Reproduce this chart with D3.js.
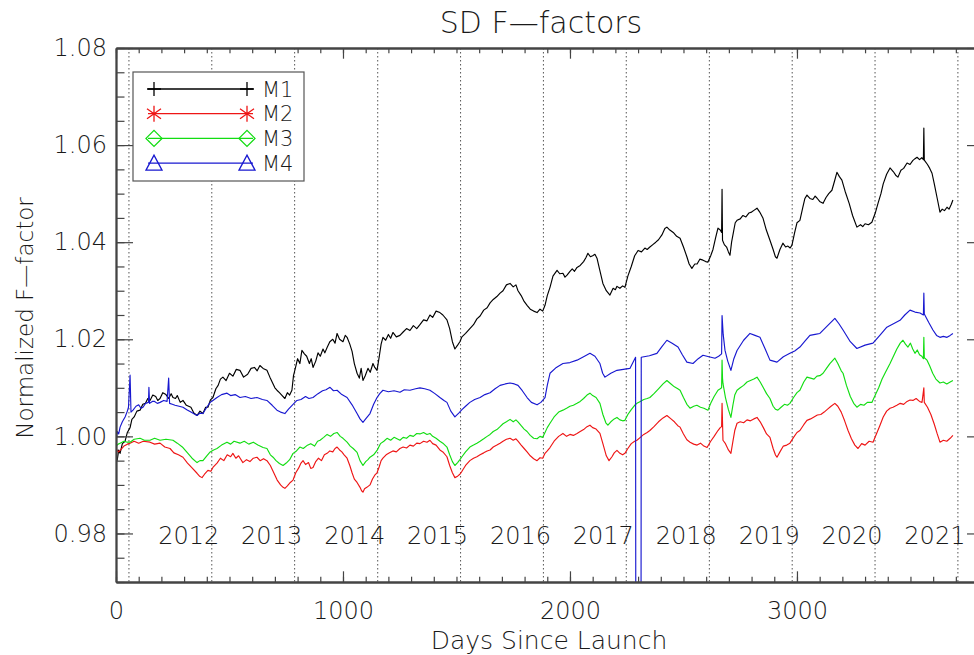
<!DOCTYPE html>
<html>
<head>
<meta charset="utf-8">
<script src="https://cdn.jsdelivr.net/npm/d3@7"></script>
<style>
  body { margin: 0; background: #fff; }
  text { font-family: "DejaVu Sans", sans-serif; font-weight: 200; fill: #1a1a1a; }
</style>
</head>
<body>
<svg id="chart" width="974" height="655"></svg>
<script>
// series names and colours
var seriesNames = ["M1", "M2", "M3", "M4"];
var seriesColors = ["#000000", "#ee1515", "#12dd12", "#1818d0"];

// [days since launch, normalized F-factor]
var m1Data = [[5,.9950],[12,.9972],[18,.9965],[28,.9985],[40,.9990],[50,1.0008],[62,1.0018],[70,1.0035],[80,1.0040],[92,1.0052],[106,1.0054],[118,1.0066],[130,1.0068],[140,1.0078],[150,1.0074],[162,1.0085],[175,1.0082],[184,1.0074],[194,1.0078],[206,1.0090],[220,1.0086],[232,1.0078],[243,1.0088],[251,1.0080],[262,1.0078],[270,1.0084],[283,1.0070],[295,1.0074],[310,1.0064],[330,1.0060],[343,1.0048],[357,1.0043],[370,1.0052],[383,1.0047],[395,1.0060],[405,1.0060],[416,1.0075],[427,1.0080],[440,1.0098],[450,1.0105],[460,1.0118],[471,1.0122],[485,1.0115],[500,1.0130],[515,1.0124],[530,1.0138],[546,1.0136],[562,1.0122],[580,1.0128],[595,1.0140],[610,1.0142],[622,1.0135],[634,1.0146],[648,1.0140],[665,1.0136],[678,1.0122],[690,1.0110],[700,1.0100],[709,1.0095],[720,1.0090],[730,1.0085],[744,1.0078],[755,1.0090],[765,1.0085],[775,1.0095],[782,1.0125],[790,1.0140],[800,1.0160],[810,1.0150],[819,1.0177],[830,1.0170],[840,1.0165],[852,1.0150],[860,1.0160],[868,1.0142],[880,1.0155],[890,1.0172],[900,1.0165],[912,1.0180],[920,1.0172],[930,1.0183],[942,1.0195],[955,1.0200],[965,1.0192],[974,1.0212],[985,1.0200],[1000,1.0195],[1010,1.0208],[1018,1.0204],[1030,1.0190],[1040,1.0175],[1050,1.0150],[1062,1.0130],[1072,1.0120],[1080,1.0140],[1088,1.0115],[1098,1.0125],[1110,1.0140],[1120,1.0132],[1132,1.0150],[1140,1.0142],[1150,1.0136],[1160,1.0165],[1168,1.0190],[1176,1.0204],[1188,1.0198],[1200,1.0210],[1210,1.0202],[1220,1.0214],[1235,1.0205],[1251,1.0208],[1265,1.0215],[1280,1.0222],[1295,1.0218],[1310,1.0228],[1325,1.0222],[1339,1.0230],[1355,1.0240],[1370,1.0238],[1383,1.0250],[1395,1.0245],[1410,1.0258],[1427,1.0255],[1440,1.0250],[1458,1.0240],[1470,1.0222],[1482,1.0195],[1493,1.0180],[1505,1.0188],[1515,1.0195],[1524,1.0205],[1540,1.0212],[1559,1.0222],[1575,1.0230],[1590,1.0242],[1604,1.0248],[1620,1.0260],[1635,1.0265],[1648,1.0275],[1662,1.0282],[1678,1.0288],[1692,1.0295],[1705,1.0300],[1720,1.0312],[1736,1.0315],[1750,1.0308],[1762,1.0312],[1771,1.0300],[1785,1.0290],[1798,1.0278],[1811,1.0270],[1825,1.0262],[1840,1.0258],[1855,1.0255],[1868,1.0262],[1880,1.0258],[1890,1.0270],[1900,1.0290],[1912,1.0307],[1925,1.0330],[1943,1.0342],[1955,1.0335],[1969,1.0336],[1978,1.0328],[1987,1.0332],[2000,1.0340],[2010,1.0345],[2020,1.0340],[2031,1.0348],[2045,1.0352],[2060,1.0360],[2070,1.0368],[2079,1.0377],[2090,1.0370],[2100,1.0372],[2110,1.0375],[2119,1.0367],[2130,1.0345],[2145,1.0315],[2160,1.0300],[2176,1.0291],[2190,1.0305],[2200,1.0302],[2207,1.0309],[2220,1.0305],[2232,1.0310],[2242,1.0307],[2255,1.0330],[2270,1.0350],[2285,1.0372],[2300,1.0383],[2315,1.0380],[2330,1.0388],[2340,1.0385],[2352,1.0390],[2365,1.0395],[2378,1.0400],[2390,1.0405],[2405,1.0415],[2418,1.0428],[2427,1.0431],[2440,1.0425],[2455,1.0420],[2470,1.0412],[2485,1.0408],[2500,1.0390],[2515,1.0370],[2525,1.0355],[2537,1.0346],[2550,1.0355],[2560,1.0355],[2572,1.0365],[2586,1.0363],[2598,1.0360],[2608,1.0359],[2620,1.0372],[2630,1.0385],[2642,1.0410],[2652,1.0429],[2662,1.0425],[2668,1.0420],[2670,1.0509],[2672,1.0404],[2680,1.0395],[2690,1.0390],[2698,1.0380],[2705,1.0373],[2712,1.0400],[2720,1.0420],[2728,1.0440],[2736,1.0445],[2750,1.0448],[2762,1.0455],[2775,1.0452],[2788,1.0460],[2800,1.0462],[2812,1.0466],[2824,1.0470],[2836,1.0462],[2850,1.0450],[2865,1.0425],[2881,1.0404],[2895,1.0385],[2905,1.0370],[2912,1.0367],[2925,1.0385],[2938,1.0398],[2950,1.0390],[2960,1.0392],[2970,1.0388],[2978,1.0394],[2990,1.0420],[3000,1.0440],[3013,1.0445],[3025,1.0470],[3035,1.0490],[3044,1.0497],[3057,1.0490],[3070,1.0488],[3080,1.0495],[3088,1.0491],[3100,1.0484],[3115,1.0480],[3128,1.0492],[3140,1.0500],[3154,1.0507],[3165,1.0525],[3176,1.0544],[3187,1.0535],[3198,1.0528],[3212,1.0505],[3230,1.0480],[3245,1.0455],[3264,1.0431],[3280,1.0436],[3290,1.0432],[3300,1.0438],[3315,1.0436],[3330,1.0441],[3345,1.0460],[3357,1.0480],[3370,1.0500],[3380,1.0520],[3395,1.0540],[3410,1.0553],[3425,1.0545],[3435,1.0538],[3445,1.0534],[3458,1.0548],[3470,1.0552],[3485,1.0563],[3498,1.0560],[3510,1.0568],[3520,1.0572],[3529,1.0575],[3540,1.0570],[3550,1.0574],[3557,1.0570],[3559,1.0635],[3561,1.0569],[3575,1.0560],[3585,1.0552],[3595,1.0542],[3605,1.0520],[3618,1.0490],[3630,1.0462],[3640,1.0468],[3650,1.0465],[3661,1.0472],[3670,1.0468],[3680,1.0478],[3687,1.0487]];
var m2Data = [[0,.9975],[10,.9968],[18,.9971],[35,.9980],[50,.9984],[62,.9986],[80,.9990],[100,.9986],[120,.9990],[150,.9988],[170,.9984],[194,.9986],[215,.9978],[238,.9975],[255,.9966],[275,.9962],[295,.9957],[315,.9945],[335,.9935],[357,.9924],[368,.9918],[379,.9915],[390,.9922],[405,.9930],[418,.9928],[427,.9936],[445,.9945],[460,.9955],[475,.9950],[490,.9962],[505,.9958],[515,.9965],[528,.9955],[540,.9960],[559,.9946],[575,.9952],[590,.9948],[605,.9955],[621,.9957],[635,.9950],[650,.9954],[665,.9950],[680,.9940],[695,.9925],[710,.9910],[725,.9900],[736,.9895],[744,.9893],[755,.9898],[768,.9905],[780,.9910],[792,.9925],[805,.9935],[815,.9945],[824,.9950],[835,.9942],[848,.9946],[858,.9934],[868,.9936],[880,.9948],[892,.9955],[905,.9950],[918,.9962],[930,.9965],[942,.9970],[955,.9968],[965,.9975],[974,.9978],[985,.9972],[995,.9968],[1005,.9962],[1018,.9955],[1030,.9940],[1040,.9925],[1050,.9912],[1062,.9905],[1075,.9895],[1082,.9888],[1088,.9885],[1095,.9892],[1105,.9895],[1119,.9900],[1130,.9912],[1140,.9920],[1150,.9925],[1160,.9938],[1168,.9950],[1176,.9955],[1190,.9962],[1205,.9966],[1220,.9970],[1235,.9968],[1251,.9975],[1265,.9978],[1280,.9976],[1295,.9982],[1310,.9980],[1325,.9986],[1339,.9985],[1355,.9990],[1370,.9988],[1383,.9992],[1395,.9985],[1410,.9982],[1427,.9972],[1440,.9968],[1458,.9958],[1470,.9940],[1482,.9925],[1493,.9915],[1505,.9918],[1515,.9922],[1524,.9928],[1540,.9940],[1559,.9950],[1575,.9955],[1590,.9958],[1604,.9962],[1620,.9966],[1635,.9970],[1648,.9972],[1662,.9978],[1678,.9982],[1692,.9986],[1705,.9990],[1720,.9994],[1736,.9996],[1750,.9992],[1762,.9995],[1771,.9990],[1785,.9982],[1798,.9975],[1811,.9968],[1825,.9960],[1840,.9954],[1855,.9950],[1868,.9956],[1880,.9955],[1890,.9965],[1900,.9970],[1912,.9977],[1930,.9990],[1950,1.0000],[1969,1.0006],[1985,1.0000],[2000,1.0004],[2015,1.0002],[2031,1.0006],[2045,1.0010],[2060,1.0014],[2075,1.0020],[2088,1.0023],[2100,1.0018],[2115,1.0015],[2132,1.0006],[2145,.9985],[2160,.9960],[2172,.9950],[2185,.9958],[2195,.9966],[2207,.9971],[2220,.9965],[2232,.9962],[2242,.9965],[2255,.9975],[2270,.9985],[2285,.9990],[2295,.9992],[2310,.9998],[2325,1.0004],[2340,1.0008],[2352,1.0012],[2370,1.0020],[2390,1.0030],[2410,1.0038],[2427,1.0043],[2445,1.0036],[2460,1.0030],[2475,1.0022],[2485,1.0019],[2500,1.0005],[2515,.9993],[2529,.9988],[2545,.9984],[2560,.9982],[2575,.9986],[2590,.9980],[2604,.9977],[2620,.9990],[2635,1.0000],[2652,1.0012],[2662,1.0018],[2668,1.0020],[2670,1.0068],[2672,1.0030],[2674,.9992],[2685,.9985],[2698,.9972],[2709,.9965],[2718,.9990],[2726,1.0012],[2736,1.0027],[2750,1.0030],[2765,1.0028],[2780,1.0034],[2795,1.0032],[2810,1.0036],[2824,1.0039],[2838,1.0030],[2852,1.0018],[2866,1.0005],[2881,.9998],[2895,.9975],[2905,.9962],[2912,.9957],[2925,.9968],[2940,.9980],[2955,.9982],[2969,.9986],[2985,.9998],[3000,1.0008],[3013,1.0012],[3030,1.0024],[3044,1.0033],[3060,1.0036],[3075,1.0040],[3090,1.0044],[3105,1.0045],[3120,1.0050],[3135,1.0056],[3150,1.0062],[3167,1.0068],[3180,1.0062],[3195,1.0050],[3210,1.0032],[3225,1.0012],[3240,.9995],[3255,.9982],[3269,.9975],[3285,.9985],[3300,.9982],[3318,.9990],[3335,.9988],[3350,1.0005],[3365,1.0022],[3380,1.0040],[3395,1.0052],[3410,1.0058],[3423,1.0060],[3440,1.0064],[3455,1.0068],[3470,1.0066],[3485,1.0072],[3498,1.0075],[3511,1.0074],[3525,1.0078],[3540,1.0072],[3551,1.0070],[3559,1.0100],[3561,1.0070],[3575,1.0060],[3590,1.0045],[3605,1.0025],[3618,1.0005],[3630,.9988],[3645,.9992],[3660,.9990],[3675,.9996],[3687,1.0002]];
var m3Data = [[0,.9980],[10,.9984],[18,.9986],[35,.9990],[50,.9988],[62,.9988],[80,.9994],[106,.9996],[125,.9992],[150,.9992],[170,.9996],[194,.9992],[220,.9994],[251,.9992],[270,.9986],[295,.9977],[315,.9966],[335,.9955],[357,.9946],[370,.9950],[383,.9950],[400,.9960],[415,.9968],[430,.9972],[445,.9975],[465,.9982],[489,.9988],[505,.9984],[520,.9990],[546,.9986],[565,.9990],[585,.9984],[605,.9988],[625,.9982],[648,.9977],[665,.9975],[680,.9962],[692,.9957],[705,.9950],[720,.9944],[736,.9940],[750,.9945],[765,.9952],[780,.9965],[795,.9970],[810,.9978],[825,.9975],[841,.9981],[858,.9985],[875,.9980],[888,.9990],[899,.9992],[915,.9998],[930,1.0004],[945,1.0000],[960,1.0006],[974,1.0008],[988,1.0000],[1000,.9996],[1018,.9988],[1032,.9980],[1045,.9975],[1062,.9967],[1075,.9950],[1088,.9940],[1100,.9948],[1110,.9952],[1119,.9957],[1135,.9962],[1150,.9971],[1165,.9985],[1180,.9990],[1194,.9996],[1210,.9992],[1225,.9998],[1251,.9992],[1265,.9998],[1280,.9996],[1295,1.0002],[1310,1.0000],[1325,1.0006],[1339,1.0005],[1355,1.0008],[1370,1.0004],[1383,1.0006],[1395,1.0000],[1410,.9996],[1427,.9990],[1440,.9986],[1458,.9978],[1470,.9962],[1482,.9948],[1493,.9940],[1505,.9946],[1515,.9952],[1524,.9958],[1540,.9968],[1559,.9978],[1575,.9982],[1590,.9986],[1604,.9990],[1620,.9995],[1635,1.0000],[1648,1.0004],[1662,1.0010],[1678,1.0014],[1692,1.0020],[1705,1.0026],[1720,1.0030],[1736,1.0035],[1750,1.0030],[1762,1.0034],[1771,1.0030],[1785,1.0022],[1798,1.0015],[1811,1.0010],[1825,1.0002],[1840,.9996],[1855,.9995],[1868,1.0000],[1880,.9998],[1890,1.0008],[1900,1.0018],[1912,1.0027],[1930,1.0040],[1950,1.0050],[1969,1.0054],[1985,1.0058],[2000,1.0062],[2015,1.0064],[2031,1.0068],[2045,1.0072],[2060,1.0078],[2075,1.0085],[2088,1.0089],[2100,1.0084],[2115,1.0080],[2132,1.0068],[2145,1.0045],[2158,1.0028],[2167,1.0023],[2180,1.0030],[2195,1.0036],[2207,1.0039],[2220,1.0034],[2232,1.0032],[2242,1.0033],[2255,1.0045],[2270,1.0055],[2285,1.0064],[2295,1.0068],[2310,1.0072],[2325,1.0076],[2340,1.0078],[2352,1.0080],[2370,1.0088],[2390,1.0098],[2410,1.0108],[2427,1.0115],[2445,1.0108],[2460,1.0102],[2475,1.0098],[2485,1.0095],[2500,1.0080],[2515,1.0066],[2529,1.0058],[2545,1.0062],[2559,1.0064],[2575,1.0060],[2590,1.0058],[2608,1.0054],[2620,1.0068],[2635,1.0082],[2652,1.0095],[2662,1.0098],[2668,1.0100],[2670,1.0157],[2672,1.0120],[2674,1.0109],[2685,1.0080],[2698,1.0055],[2709,1.0039],[2718,1.0065],[2726,1.0085],[2736,1.0095],[2750,1.0100],[2765,1.0105],[2780,1.0112],[2795,1.0115],[2810,1.0118],[2824,1.0122],[2838,1.0112],[2852,1.0100],[2866,1.0088],[2881,1.0078],[2895,1.0062],[2905,1.0056],[2916,1.0054],[2930,1.0060],[2945,1.0066],[2958,1.0064],[2969,1.0068],[2985,1.0080],[3000,1.0090],[3013,1.0095],[3030,1.0112],[3044,1.0122],[3060,1.0120],[3075,1.0118],[3088,1.0124],[3101,1.0125],[3115,1.0130],[3130,1.0140],[3145,1.0150],[3155,1.0155],[3167,1.0161],[3180,1.0150],[3195,1.0135],[3203,1.0130],[3218,1.0105],[3235,1.0082],[3250,1.0068],[3264,1.0060],[3280,1.0066],[3295,1.0064],[3310,1.0070],[3330,1.0070],[3345,1.0085],[3360,1.0100],[3375,1.0118],[3390,1.0132],[3410,1.0150],[3425,1.0165],[3440,1.0180],[3455,1.0192],[3467,1.0198],[3478,1.0190],[3489,1.0184],[3500,1.0192],[3510,1.0180],[3520,1.0171],[3530,1.0178],[3540,1.0168],[3550,1.0165],[3557,1.0160],[3559,1.0204],[3561,1.0162],[3573,1.0157],[3585,1.0145],[3598,1.0130],[3612,1.0118],[3630,1.0110],[3645,1.0112],[3660,1.0108],[3675,1.0112],[3687,1.0115]];
var m4Data = [[0,.9990],[6,1.0010],[12,1.0005],[18,1.0019],[28,1.0030],[40,1.0040],[50,1.0052],[55,1.0060],[62,1.0126],[66,1.0050],[75,1.0054],[88,1.0062],[100,1.0065],[110,1.0058],[119,1.0060],[130,1.0068],[143,1.0070],[145,1.0101],[148,1.0068],[160,1.0072],[170,1.0072],[182,1.0068],[194,1.0070],[210,1.0074],[225,1.0072],[232,1.0120],[236,1.0068],[248,1.0066],[260,1.0064],[278,1.0062],[295,1.0060],[312,1.0055],[330,1.0050],[345,1.0046],[357,1.0043],[370,1.0048],[383,1.0047],[400,1.0060],[415,1.0070],[427,1.0074],[445,1.0080],[465,1.0086],[489,1.0089],[505,1.0084],[525,1.0086],[546,1.0080],[570,1.0082],[595,1.0078],[621,1.0080],[645,1.0076],[665,1.0074],[688,1.0064],[709,1.0054],[725,1.0050],[744,1.0047],[760,1.0056],[780,1.0066],[797,1.0074],[815,1.0076],[835,1.0082],[850,1.0078],[868,1.0080],[890,1.0088],[910,1.0094],[925,1.0096],[943,1.0101],[958,1.0094],[974,1.0095],[995,1.0086],[1018,1.0080],[1040,1.0065],[1062,1.0047],[1075,1.0036],[1088,1.0029],[1100,1.0036],[1119,1.0047],[1135,1.0066],[1150,1.0080],[1162,1.0088],[1176,1.0095],[1200,1.0092],[1225,1.0094],[1251,1.0091],[1270,1.0096],[1295,1.0095],[1320,1.0098],[1339,1.0100],[1360,1.0098],[1383,1.0095],[1405,1.0088],[1427,1.0080],[1445,1.0074],[1458,1.0070],[1475,1.0052],[1493,1.0040],[1510,1.0048],[1524,1.0055],[1540,1.0062],[1559,1.0070],[1580,1.0076],[1604,1.0080],[1625,1.0086],[1648,1.0090],[1670,1.0098],[1692,1.0105],[1715,1.0108],[1736,1.0110],[1755,1.0108],[1771,1.0105],[1790,1.0094],[1811,1.0080],[1830,1.0070],[1855,1.0065],[1872,1.0070],[1890,1.0080],[1900,1.0105],[1912,1.0130],[1940,1.0142],[1969,1.0150],[2000,1.0152],[2031,1.0157],[2060,1.0164],[2088,1.0171],[2110,1.0165],[2132,1.0150],[2144,1.0130],[2154,1.0122],[2180,1.0130],[2207,1.0136],[2235,1.0138],[2264,1.0140],[2289,1.0163],[2291,0.9000],[2312,0.9000],[2314,1.0163],[2350,1.0166],[2383,1.0171],[2405,1.0185],[2427,1.0198],[2450,1.0192],[2476,1.0184],[2495,1.0168],[2515,1.0153],[2542,1.0150],[2565,1.0160],[2586,1.0167],[2612,1.0164],[2639,1.0161],[2655,1.0165],[2668,1.0170],[2670,1.0249],[2675,1.0210],[2683,1.0177],[2695,1.0155],[2709,1.0136],[2722,1.0160],[2736,1.0177],[2765,1.0198],[2793,1.0212],[2815,1.0208],[2837,1.0204],[2860,1.0180],[2881,1.0157],[2912,1.0153],[2940,1.0164],[2969,1.0171],[2990,1.0176],[3013,1.0184],[3035,1.0196],[3057,1.0208],[3080,1.0210],[3101,1.0212],[3135,1.0228],[3167,1.0243],[3185,1.0232],[3203,1.0219],[3235,1.0195],[3264,1.0181],[3300,1.0188],[3335,1.0192],[3365,1.0208],[3396,1.0225],[3425,1.0232],[3454,1.0239],[3475,1.0250],[3498,1.0260],[3520,1.0256],[3542,1.0254],[3557,1.0250],[3559,1.0295],[3561,1.0252],[3580,1.0235],[3599,1.0219],[3615,1.0208],[3630,1.0204],[3645,1.0206],[3661,1.0204],[3675,1.0208],[3687,1.0212]];
var allSeries = [m1Data, m2Data, m3Data, m4Data];

// year boundaries (day of 1 Jan) and labels
var yearStartDays = [57, 422, 787, 1153, 1518, 1883, 2248, 2614, 2979, 3344, 3709];
var yearLabels = ["2012", "2013", "2014", "2015", "2016", "2017", "2018", "2019", "2020", "2021"];

var yTickValues = [0.98, 1.00, 1.02, 1.04, 1.06, 1.08];
var xTickValues = [0, 1000, 2000, 3000];

var margin = {left: 116, top: 48, right: 984, bottom: 582};
var svg = d3.select("#chart");

var x = d3.scaleLinear().domain([0, 3824]).range([margin.left, margin.right]);
var y = d3.scaleLinear().domain([0.97, 1.08]).range([margin.bottom, margin.top]);

svg.append("clipPath").attr("id", "plotclip")
  .append("rect")
  .attr("x", margin.left).attr("y", margin.top)
  .attr("width", margin.right - margin.left).attr("height", margin.bottom - margin.top);

// dotted year lines
svg.selectAll(".yearline").data(yearStartDays).enter().append("line")
  .attr("x1", d => x(d)).attr("x2", d => x(d))
  .attr("y1", margin.top).attr("y2", margin.bottom)
  .attr("stroke", "#555").attr("stroke-width", 1)
  .attr("stroke-dasharray", "1.5,2.5");

// year labels sit just left of next year line
svg.selectAll(".yearlabel").data(yearLabels).enter().append("text")
  .attr("x", (d, i) => x(yearStartDays[i + 1]) - 23)
  .attr("y", 544)
  .attr("text-anchor", "middle")
  .style("font-size", "24px")
  .text(d => d);

// data lines
var line = d3.line().x(d => x(d[0])).y(d => y(d[1]));
var plotG = svg.append("g").attr("clip-path", "url(#plotclip)");
allSeries.forEach(function(s, i) {
  plotG.append("path").datum(s)
    .attr("d", line)
    .attr("fill", "none")
    .attr("stroke", seriesColors[i])
    .attr("stroke-width", 1.15)
    .attr("stroke-linejoin", "round");
});

// axes (ticks point inward, IDL style)
var majY = 17, minY = 8.5, majX = 10.7, minX = 5.3;
var yMinor = d3.range(0.97, 1.0801, 0.005);
var xMinor = d3.range(0, 3824, 100);

function styleAxis(g) {
  g.selectAll("path, line").attr("stroke", "#444").attr("stroke-width", 1.2);
  g.selectAll("text").style("font-size", "24px").attr("fill", "#1a1a1a")
    .style("font-family", "DejaVu Sans, sans-serif").style("font-weight", 200);
}

svg.append("g").attr("transform", "translate(" + margin.left + ",0)")
  .call(d3.axisLeft(y).tickValues(yTickValues).tickFormat(d3.format(".2f")).tickSizeInner(-majY).tickSizeOuter(0).tickPadding(9))
  .call(styleAxis);
svg.append("g").attr("transform", "translate(" + margin.left + ",0)")
  .call(d3.axisLeft(y).tickValues(yMinor).tickFormat("").tickSizeInner(-minY).tickSizeOuter(0))
  .call(styleAxis);
svg.append("g").attr("transform", "translate(" + margin.right + ",0)")
  .call(d3.axisRight(y).tickValues(yTickValues).tickFormat("").tickSizeInner(-majY).tickSizeOuter(0))
  .call(styleAxis);
svg.append("g").attr("transform", "translate(" + margin.right + ",0)")
  .call(d3.axisRight(y).tickValues(yMinor).tickFormat("").tickSizeInner(-minY).tickSizeOuter(0))
  .call(styleAxis);

svg.append("g").attr("transform", "translate(0," + margin.bottom + ")")
  .call(d3.axisBottom(x).tickValues(xTickValues).tickFormat(d3.format("d")).tickSizeInner(-majX).tickSizeOuter(0).tickPadding(20))
  .call(styleAxis);
svg.append("g").attr("transform", "translate(0," + margin.bottom + ")")
  .call(d3.axisBottom(x).tickValues(xMinor).tickFormat("").tickSizeInner(-minX).tickSizeOuter(0))
  .call(styleAxis);
svg.append("g").attr("transform", "translate(0," + margin.top + ")")
  .call(d3.axisTop(x).tickValues(xTickValues).tickFormat("").tickSizeInner(-majX).tickSizeOuter(0))
  .call(styleAxis);
svg.append("g").attr("transform", "translate(0," + margin.top + ")")
  .call(d3.axisTop(x).tickValues(xMinor).tickFormat("").tickSizeInner(-minX).tickSizeOuter(0))
  .call(styleAxis);
svg.selectAll(".domain").attr("stroke-width", 1.8);

// titles
svg.append("text").attr("x", 541).attr("y", 33).attr("text-anchor", "middle")
  .style("font-size", "30px").text("SD F\u2014factors");
svg.append("text").attr("x", 549).attr("y", 649).attr("text-anchor", "middle")
  .style("font-size", "25px").text("Days Since Launch");
svg.append("text").attr("transform", "translate(33,318) rotate(-90)").attr("text-anchor", "middle")
  .style("font-size", "23px").text("Normalized F\u2014factor");

// legend
var leg = svg.append("g");
leg.append("rect").attr("x", 133).attr("y", 72).attr("width", 171).attr("height", 109)
  .attr("fill", "#fff").attr("stroke", "#555").attr("stroke-width", 1.2);

function marker(g, kind, cx, cy, col) {
  if (kind === 0) {
    g.append("path").attr("d", "M" + (cx - 7) + "," + cy + "H" + (cx + 7) + "M" + cx + "," + (cy - 7) + "V" + (cy + 7));
  } else if (kind === 1) {
    g.append("path").attr("d",
      "M" + cx + "," + (cy - 8) + "V" + (cy + 8) +
      "M" + (cx - 7) + "," + (cy - 5) + "L" + (cx + 7) + "," + (cy + 5) +
      "M" + (cx - 7) + "," + (cy + 5) + "L" + (cx + 7) + "," + (cy - 5));
  } else if (kind === 2) {
    g.append("path").attr("d", "M" + (cx - 8) + "," + cy + "L" + cx + "," + (cy - 8) + "L" + (cx + 8) + "," + cy + "L" + cx + "," + (cy + 8) + "Z");
  } else {
    g.append("path").attr("d", "M" + (cx - 8) + "," + (cy + 7) + "L" + cx + "," + (cy - 8) + "L" + (cx + 8) + "," + (cy + 7) + "Z");
  }
  g.selectAll("path").attr("fill", "none").attr("stroke", col).attr("stroke-width", 1.3);
}

seriesNames.forEach(function(name, i) {
  var ly = 89 + i * 24.7;
  var g = leg.append("g");
  g.append("line").attr("x1", 148).attr("x2", 253).attr("y1", ly).attr("y2", ly)
    .attr("stroke", seriesColors[i]).attr("stroke-width", 1.3);
  var mg = g.append("g");
  marker(mg, i, 154, ly, seriesColors[i]);
  marker(mg, i, 247, ly, seriesColors[i]);
  g.append("text").attr("x", 262).attr("y", ly).attr("dy", "0.36em")
    .style("font-size", "21px").text(name);
});
</script>
</body>
</html>
